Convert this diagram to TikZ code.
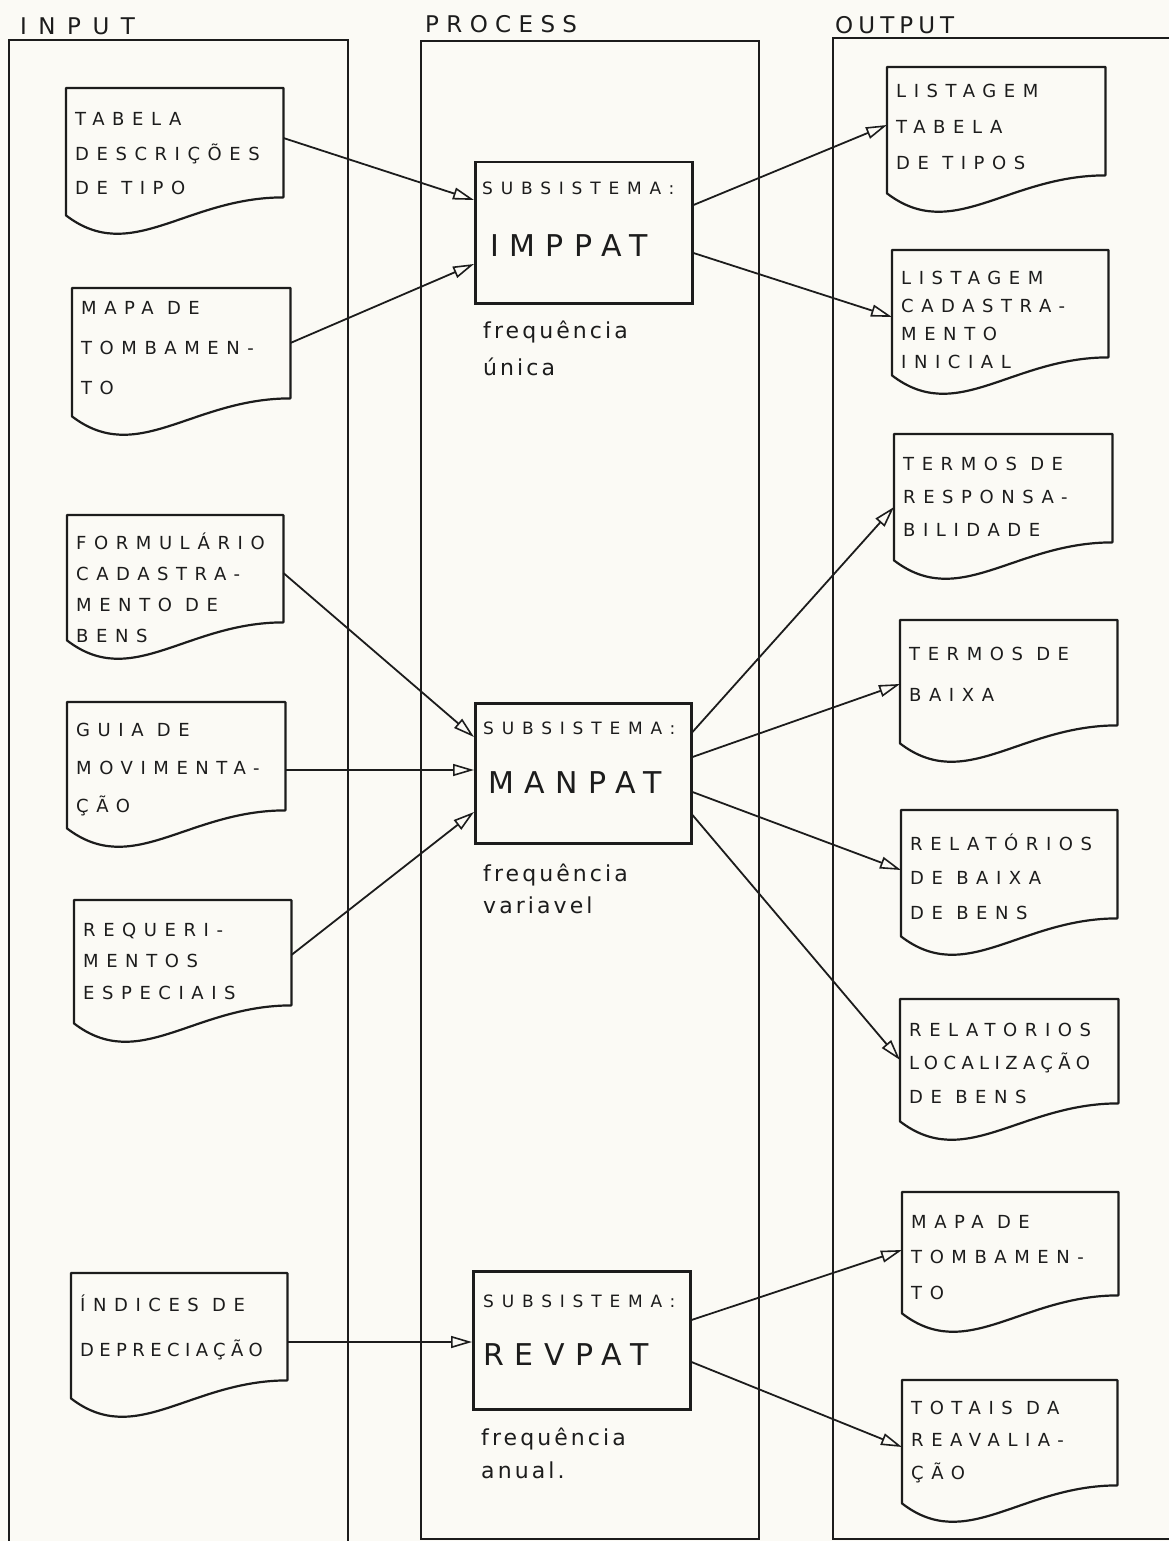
\documentclass[tikz,border=0pt]{standalone}
\usepackage{fontspec}
\usetikzlibrary{arrows.meta,calc}
\newfontfamily\docfont[LetterSpace=42]{DejaVu Sans}
\newfontfamily\subfont[LetterSpace=46]{DejaVu Sans}
\newfontfamily\namefont[LetterSpace=35]{DejaVu Sans}
\newfontfamily\headfont{DejaVu Sans}
\newfontfamily\notefont[LetterSpace=14]{DejaVu Sans}
\definecolor{ink}{RGB}{28,28,28}
\definecolor{paper}{RGB}{251,250,245}

\tikzset{
  colline/.style={draw=ink, line width=2.5pt},
  outline/.style={draw=ink, line width=2.2pt, line join=round},
  frame/.style={rectangle, draw=none, inner sep=0pt, anchor=north west},
  procbox/.style={rectangle, draw=ink, line width=2.5pt, inner sep=0pt, anchor=north west},
  flow/.style={draw=ink, line width=1.8pt, -{Triangle[open, length=21pt, width=12pt, line width=1.6pt]}},
  doctext/.style={anchor=base west, inner sep=0pt, align=left, text=ink},
  headtext/.style={anchor=base west, inner sep=0pt, text=ink},
  subtext/.style={doctext, font=\subfont\fontsize{17pt}{17pt}\selectfont},
  nametext/.style={doctext, font=\namefont\fontsize{30pt}{30pt}\selectfont},
}

% document symbol: name, left, top, right, bottom of the right edge
\newcommand\docshape[5]{%
  \node[frame, minimum width={#4-#2}, minimum height={#5-#3}] (#1) at (#2,#3) {};
  \draw[outline] (#1.north west) -- (#1.north east) -- (#1.south east)
    .. controls ($(#1.south west)!0.55!(#1.south east)$)
       and ($(#1.south west)!0.3!(#1.south east)+(0,68)$)
    .. ($(#1.south west)+(0,18)$) -- cycle;
}
% text inside a document symbol: name, baseline of the last line, line skip, lines
\newcommand\doclabel[4]{%
  \node[doctext, font={\docfont\fontsize{18pt}{#3pt}\selectfont}] (#1-text)
    at ($(#1.north west)+(9,#2)$) {#4};
}
% tighter tracking for long words
\newcommand\tight[1]{{\addfontfeature{LetterSpace=30}#1}}
% note below a process box: name, baseline of the last line, line skip, lines
\newcommand\freqlabel[4]{%
  \node[doctext, font={\notefont\fontsize{22pt}{#3pt}\selectfont}] (#1-freq)
    at ($(#1.south west)+(9,#2)$) {#4};
}

\begin{document}
\begin{tikzpicture}[x=1pt, y=-1pt]
\useasboundingbox (0,0) rectangle (1169,1541);
\fill[paper] (0,0) rectangle (1169,1541);

% column frames
\draw[colline] (9,1545) -- (9,40) -- (348,40) -- (348,1545);
\draw[colline] (421,41) rectangle (759,1539);
\draw[colline] (1175,38) -- (833,38) -- (833,1539) -- (1175,1539);

\node[headtext, font={\headfont\addfontfeature{LetterSpace=50}\fontsize{23pt}{23pt}\selectfont}] (hin) at (20,35) {INPUT};
\node[headtext, font={\headfont\addfontfeature{LetterSpace=32}\fontsize{23pt}{23pt}\selectfont}] (hproc) at (425,33) {PROCESS};
\node[headtext, font={\headfont\addfontfeature{LetterSpace=22}\fontsize{23pt}{23pt}\selectfont}] (hout) at (835,34) {OUTPUT};

% inputs
\docshape{tabela}{66}{88}{283}{197}
\doclabel{tabela}{106}{34}{TABELA\\DESCRIÇÕES\\DE TIPO}
\docshape{mapain}{72}{288}{290}{398}
\doclabel{mapain}{106}{40}{MAPA DE\\TOMBAMEN-\\TO}
\docshape{formul}{67}{515}{283}{622}
\doclabel{formul}{127}{31}{FORMULÁRIO\\CADASTRA-\\MENTO DE\\BENS}
\docshape{guia}{67}{702}{285}{810}
\doclabel{guia}{110}{38}{GUIA DE\\MOVIMENTA-\\ÇÃO}
\docshape{requer}{74}{900}{291}{1005}
\doclabel{requer}{99}{31.5}{REQUERI-\\MENTOS\\ESPECIAIS}
\docshape{indices}{71}{1273}{287}{1380}
\doclabel{indices}{83}{45}{ÍNDICES DE\\\tight{DEPRECIAÇÃO}}

% processes
\node[procbox, minimum width=217pt, minimum height=141pt] (imppat) at (474,161) {};
\node[subtext]  (imppat-sub)  at ($(imppat.north west)+(8,34)$) {SUBSISTEMA:};
\node[nametext] (imppat-name) at ($(imppat.north west)+(16,95)$) {IMPPAT};
\freqlabel{imppat}{71}{37}{frequência\\única}

\node[procbox, minimum width=216pt, minimum height=140pt] (manpat) at (474,702) {};
\node[subtext]  (manpat-sub)  at ($(manpat.north west)+(9,32)$) {SUBSISTEMA:};
\node[nametext] (manpat-name) at ($(manpat.north west)+(14,91)$) {MANPAT};
\freqlabel{manpat}{69}{32}{frequência\\variavel}

\node[procbox, minimum width=217pt, minimum height=138pt] (revpat) at (472,1270) {};
\node[subtext]  (revpat-sub)  at ($(revpat.north west)+(11,37)$) {SUBSISTEMA:};
\node[nametext] (revpat-name) at ($(revpat.north west)+(11,95)$) {REVPAT};
\freqlabel{revpat}{68}{33}{frequência\\anual.}

% outputs
\docshape{listtab}{887}{67}{1105}{175}
\doclabel{listtab}{103}{36}{LISTAGEM\\TABELA\\DE TIPOS}
\docshape{listcad}{892}{250}{1108}{357}
\doclabel{listcad}{118}{28}{LISTAGEM\\CADASTRA-\\MENTO\\INICIAL}
\docshape{termresp}{894}{434}{1112}{542}
\doclabel{termresp}{102}{33}{TERMOS DE\\RESPONSA-\\BILIDADE}
\docshape{termbaixa}{900}{620}{1117}{725}
\doclabel{termbaixa}{81}{41}{TERMOS DE\\BAIXA}
\docshape{relbaixa}{901}{810}{1117}{918}
\doclabel{relbaixa}{109}{34.5}{RELATÓRIOS\\DE BAIXA\\DE BENS}
\docshape{relloc}{900}{999}{1118}{1103}
\doclabel{relloc}{104}{33.5}{RELATORIOS\\\tight{LOCALIZAÇÃO}\\DE BENS}
\docshape{mapaout}{902}{1192}{1118}{1295}
\doclabel{mapaout}{107}{35.5}{MAPA DE\\TOMBAMEN-\\TO}
\docshape{totais}{902}{1380}{1117}{1485}
\doclabel{totais}{99}{32.5}{TOTAIS DA\\REAVALIA-\\ÇÃO}

% flows into and out of IMPPAT
\draw[flow] ([yshift=-50pt]tabela.north east) -- ([yshift=-39pt]imppat.north west);
\draw[flow] ([yshift=-55pt]mapain.north east) -- ([yshift=-103pt]imppat.north west);
\draw[flow] ([yshift=-44pt]imppat.north east) -- ([yshift=-58pt]listtab.north west);
\draw[flow] ([yshift=-92pt]imppat.north east) -- ([yshift=-67pt]listcad.north west);

% flows into and out of MANPAT
\draw[flow] ([yshift=-58pt]formul.north east) -- ([yshift=-35pt]manpat.north west);
\draw[flow] ([yshift=-68pt]guia.north east) -- ([yshift=-68pt]manpat.north west);
\draw[flow] ([yshift=-55pt]requer.north east) -- ([yshift=-110pt]manpat.north west);
\draw[flow] ([yshift=-30pt]manpat.north east) -- ([yshift=-73pt]termresp.north west);
\draw[flow] ([yshift=-55pt]manpat.north east) -- ([yshift=-64pt]termbaixa.north west);
\draw[flow] ([yshift=-90pt]manpat.north east) -- ([yshift=-60pt]relbaixa.north west);
\draw[flow] ([yshift=-113pt]manpat.north east) -- ([yshift=-61pt]relloc.north west);

% flows into and out of REVPAT
\draw[flow] ([yshift=-69pt]indices.north east) -- ([yshift=-72pt]revpat.north west);
\draw[flow] ([yshift=-50pt]revpat.north east) -- ([yshift=-58pt]mapaout.north west);
\draw[flow] ([yshift=-92pt]revpat.north east) -- ([yshift=-67pt]totais.north west);
\end{tikzpicture}
\end{document}
